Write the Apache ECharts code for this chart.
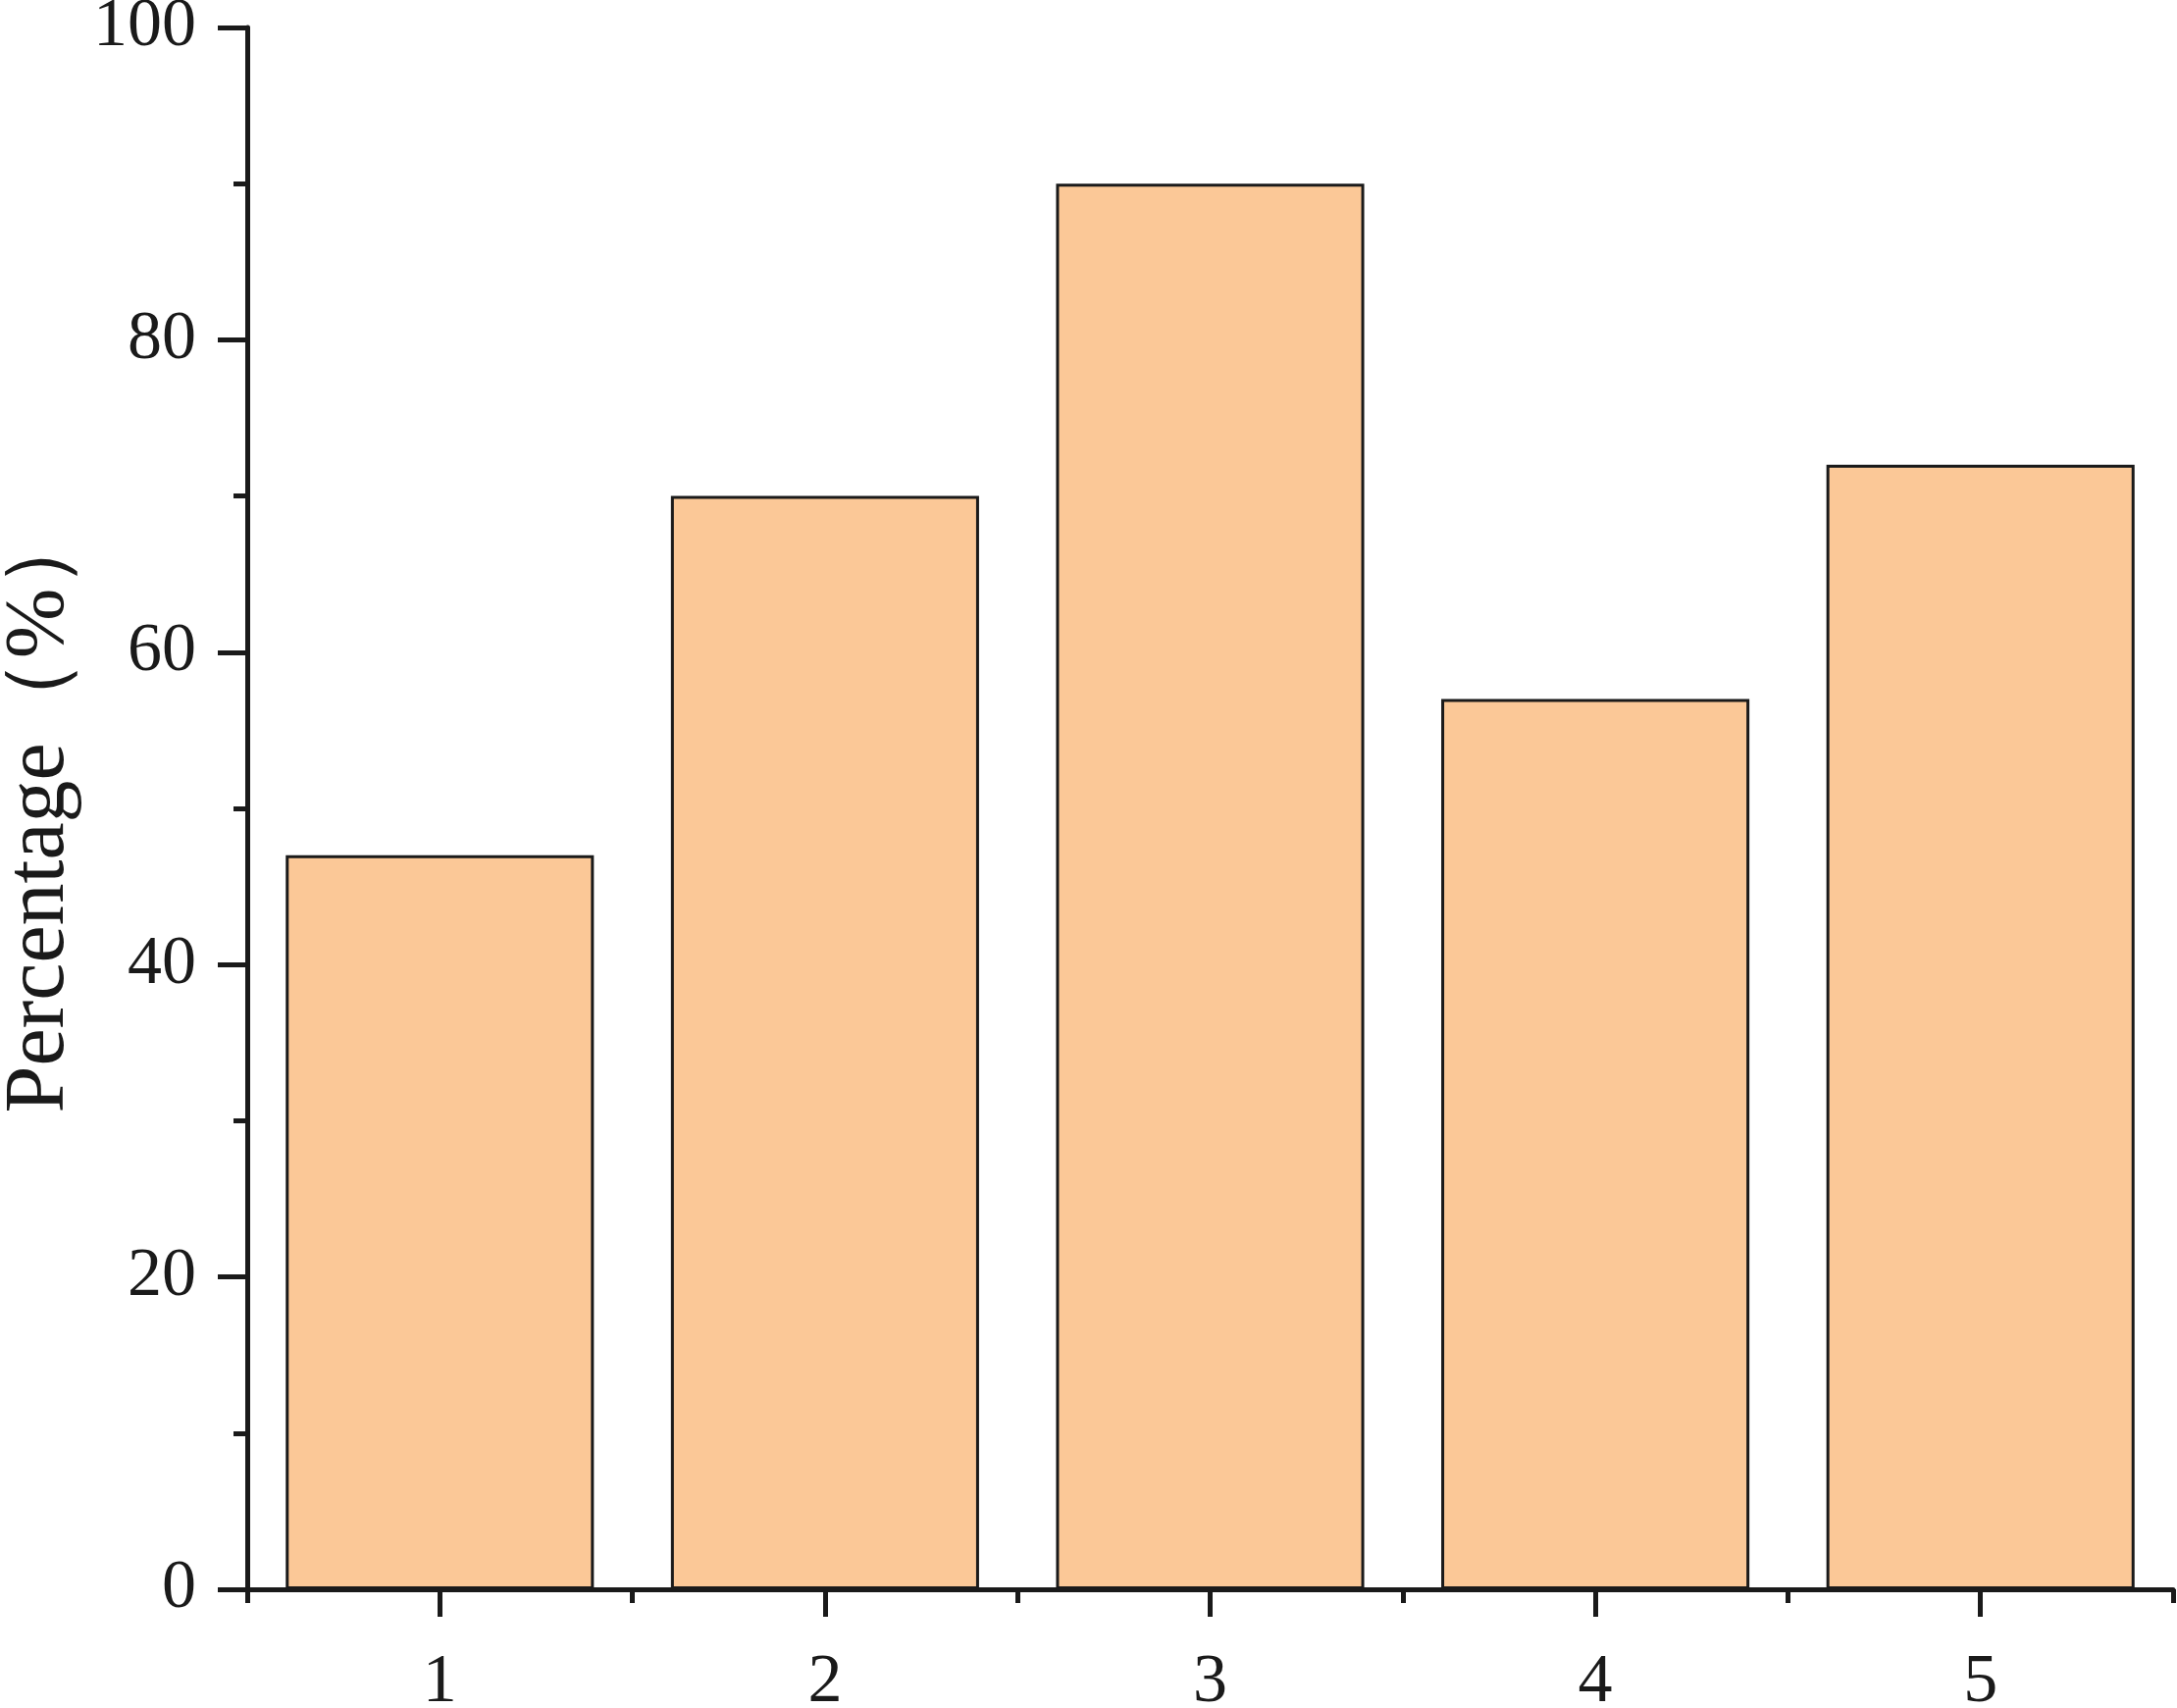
<!DOCTYPE html>
<html>
<head>
<meta charset="utf-8">
<script src="https://cdn.jsdelivr.net/npm/echarts@6/dist/echarts.min.js"></script>
<style>html,body{margin:0;padding:0;background:#fff;}#c{width:2219px;height:1741px;}</style>
</head>
<body>
<div id="c"></div>
<script>
const categories = ['1', '2', '3', '4', '5'];
const values = [47, 70, 90, 57, 72];
const yTicks = { min: 0, max: 100, interval: 20 };
const yTitle = 'Percentage（%）';

const chart = echarts.init(document.getElementById('c'), null, { renderer: 'canvas' });
const FONT = 'Liberation Serif';
const INK = '#1a1a1a';
chart.setOption({
  backgroundColor: '#ffffff',
  animation: false,
  grid: { left: 252, top: 28, right: 4, bottom: 121, containLabel: false, outerBoundsMode: 'none' },
  xAxis: [
    {
      type: 'category',
      data: categories,
      boundaryGap: true,
      axisLine: { show: true, lineStyle: { color: INK, width: 5 } },
      axisTick: { show: true, alignWithLabel: true, inside: false, length: 28, lineStyle: { color: INK, width: 5 } },
      axisLabel: { color: INK, fontFamily: FONT, fontSize: 70, margin: 61 },
      splitLine: { show: false }
    },
    {
      type: 'category',
      data: categories,
      boundaryGap: true,
      position: 'bottom',
      axisLine: { show: false },
      axisTick: { show: true, inside: false, length: 14, lineStyle: { color: INK, width: 5 } },
      axisLabel: { show: false },
      splitLine: { show: false }
    }
  ],
  yAxis: {
    type: 'value',
    min: yTicks.min,
    max: yTicks.max,
    interval: yTicks.interval,
    name: yTitle,
    nameLocation: 'middle',
    nameGap: 156,
    nameRotate: 90,
    nameTextStyle: { color: INK, fontFamily: FONT, fontSize: 86 },
    axisLine: { show: true, lineStyle: { color: INK, width: 5 } },
    axisTick: { show: true, inside: false, length: 30, lineStyle: { color: INK, width: 5 } },
    minorTick: { show: true, splitNumber: 2, length: 14, lineStyle: { color: INK, width: 5 } },
    axisLabel: { color: INK, fontFamily: FONT, fontSize: 70, margin: 52 },
    splitLine: { show: false },
    minorSplitLine: { show: false }
  },
  series: [{
    type: 'bar',
    xAxisIndex: 0,
    data: values,
    barCategoryGap: '20%',
    itemStyle: { color: '#FBC897', borderColor: INK, borderWidth: 3 }
  }]
});
</script>
</body>
</html>
